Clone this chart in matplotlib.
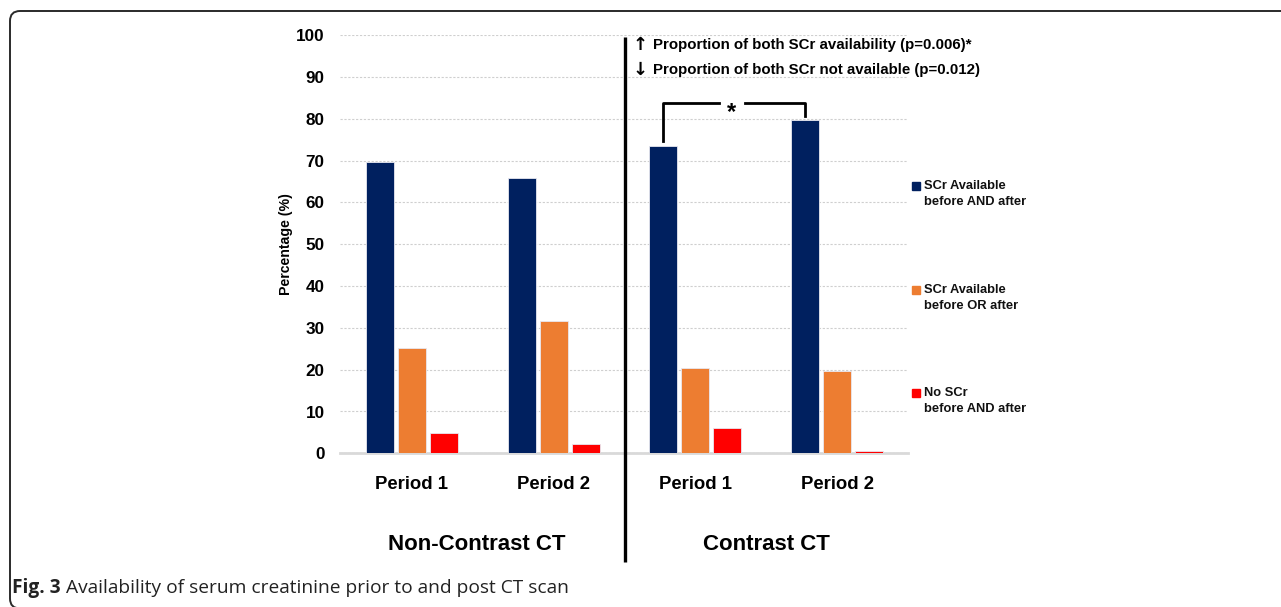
import numpy as np
import matplotlib
matplotlib.use("Agg")
import matplotlib.pyplot as plt
from matplotlib.patches import FancyBboxPatch, Rectangle
from matplotlib.transforms import blended_transform_factory

# ---------------- data ----------------
periods = ["Period 1", "Period 2", "Period 1", "Period 2"]
groups = ["Non-Contrast CT", "Contrast CT"]
series_names = ["SCr Available\nbefore AND after",
                "SCr Available\nbefore OR after",
                "No SCr\nbefore AND after"]
both_available = [69.6, 65.9, 73.4, 79.7]
one_available = [25.2, 31.6, 20.3, 19.6]
none_available = [4.9, 2.3, 6.0, 0.6]
series_colors = ["#00205F", "#ED7D31", "#FF0000"]
yticks = [0, 10, 20, 30, 40, 50, 60, 70, 80, 90, 100]
annot_arrows = ["\u2191", "\u2193"]
annot_lines = ["Proportion of both SCr availability (p=0.006)*",
               "Proportion of both SCr not available (p=0.012)"]
caption_bold = "Fig. 3"
caption_text = " Availability of serum creatinine prior to and post CT scan"

W, H = 1281, 607
fig = plt.figure(figsize=(W / 100, H / 100), dpi=100)
fig.patch.set_facecolor("white")

SANS = ["Liberation Sans", "DejaVu Sans"]

ax = fig.add_axes([340 / W, 1 - 453.3 / H, 568 / W, 418 / H])
x = np.arange(len(periods))
step = 0.226
width = 0.198
all_series = [both_available, one_available, none_available]
for i, (vals, col) in enumerate(zip(all_series, series_colors)):
    ax.bar(x + (i - 1) * step, vals, width=width, color=col,
           edgecolor="#E8E8F0", linewidth=0.6, zorder=3)

ax.set_xlim(-0.508, 3.5)
ax.set_ylim(0, 100)
ax.set_yticks(yticks)
ax.set_yticklabels([str(t) for t in yticks], family=SANS, fontsize=12.3,
                   fontweight="bold")
ax.tick_params(axis="y", length=0, pad=11)
ax.set_xticks(x)
ax.set_xticklabels(periods, family=SANS, fontsize=13.3, fontweight="bold")
ax.tick_params(axis="x", length=0, pad=16.5)
for s in ["top", "right", "left"]:
    ax.spines[s].set_visible(False)
ax.spines["bottom"].set_color("#D9D9D9")
ax.spines["bottom"].set_linewidth(2)
ax.yaxis.grid(True, color="#CFCFCF", linestyle=(0, (2, 1.5)), linewidth=0.8,
              zorder=0)
ax.set_axisbelow(True)
ax.set_ylabel("Percentage (%)", family=SANS, fontsize=10.2, fontweight="bold",
              labelpad=2.5)

# divider line between the two groups
ax.plot([1.5, 1.5], [99.5, -26], color="black", lw=2.4, clip_on=False,
        zorder=5, solid_capstyle="butt")

# significance bracket
lx = x[2] - step
rx = x[3] - step
ax.plot([lx, lx, 2.167], [74.7, 83.9, 83.9], color="black", lw=2,
        clip_on=False, zorder=5)
ax.plot([2.35, rx, rx], [83.9, 83.9, 80.6], color="black", lw=2,
        clip_on=False, zorder=5)
ax.text(2.258, 81.6, "*", ha="center", va="center",
        family=SANS, fontsize=17, fontweight="bold")

# annotation lines
for arrow, line, yy in zip(annot_arrows, annot_lines, [97.6, 91.8]):
    ax.text(1.555, yy, arrow, ha="left", va="center", family=["DejaVu Sans"],
            fontsize=13, fontweight="bold", clip_on=False)
    ax.text(1.70, yy, line, ha="left", va="center", family=SANS,
            fontsize=10.85, fontweight="bold", clip_on=False)

# group labels
tr = blended_transform_factory(ax.transData, fig.transFigure)
ax.text(0.455, 1 - 544 / H, groups[0], transform=tr, ha="center", va="center",
        family=SANS, fontsize=16, fontweight="bold")
ax.text(2.5, 1 - 544 / H, groups[1], transform=tr, ha="center", va="center",
        family=SANS, fontsize=16, fontweight="bold")

# legend (manual)
legend_y = [186, 290, 393]
for name, col, yy in zip(series_names, series_colors, legend_y):
    fig.patches.append(Rectangle((912 / W, 1 - (yy + 4) / H), 8 / W, 8 / H,
                                 transform=fig.transFigure, color=col))
    fig.text(924 / W, 1 - (yy - 6) / H, name, ha="left", va="top",
             family=SANS, fontsize=9.3, fontweight="bold", linespacing=1.4,
             color="#111111")

# caption
t1 = fig.text(12 / W, 1 - 588 / H, caption_bold, ha="left", va="center",
              family=["Open Sans", "DejaVu Sans"], fontsize=13.8,
              fontweight="bold", color="#222222")
fig.canvas.draw()
bb = t1.get_window_extent()
fig.text(bb.x1 / W, 1 - 588 / H, caption_text, ha="left", va="center",
         family=["Open Sans", "DejaVu Sans"], fontsize=13.8, color="#222222")

# rounded border
border = FancyBboxPatch((0.10, -0.015), 13.5, 5.96 + 0.015,
                        boxstyle="round,pad=0,rounding_size=0.1",
                        transform=fig.dpi_scale_trans, fill=False,
                        edgecolor="#2a2a2a", linewidth=1.4)
fig.patches.append(border)

fig.savefig("out.png", dpi=100)
